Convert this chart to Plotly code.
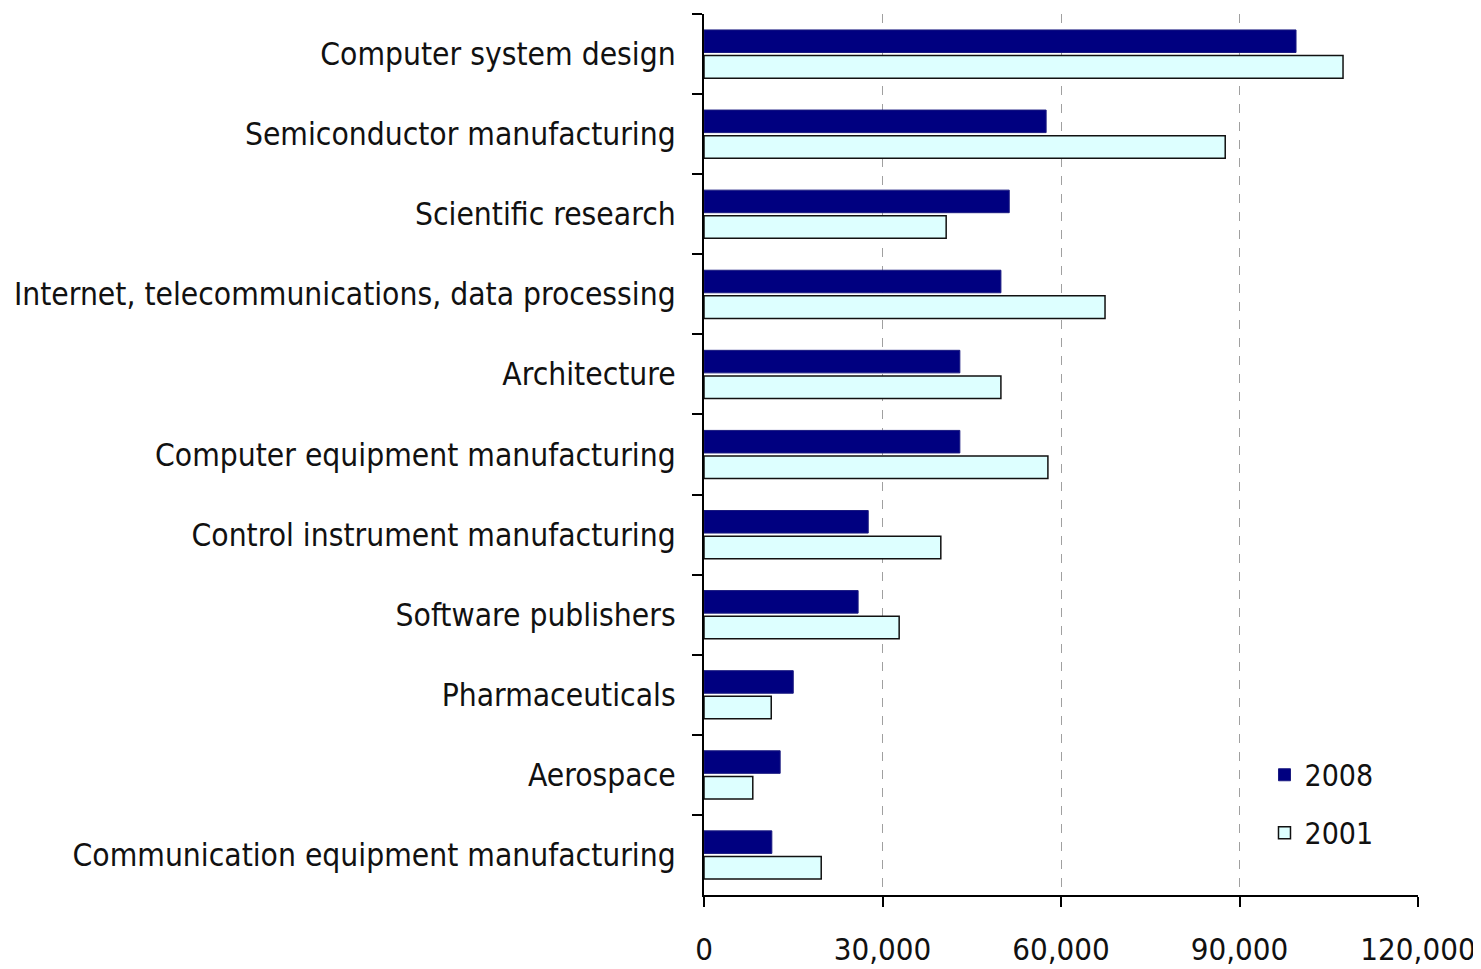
import plotly.graph_objects as go

categories = [
    "Computer system design",
    "Semiconductor manufacturing",
    "Scientific research",
    "Internet, telecommunications, data processing",
    "Architecture",
    "Computer equipment manufacturing",
    "Control instrument manufacturing",
    "Software publishers",
    "Pharmaceuticals",
    "Aerospace",
    "Communication equipment manufacturing",
]
values_2008 = [99500, 57500, 51300, 49900, 43000, 43000, 27600, 25900, 15000, 12800, 11400]
values_2001 = [107400, 87600, 40700, 67400, 49900, 57800, 39800, 32800, 11300, 8200, 19700]
tick_vals = [0, 30000, 60000, 90000, 120000]
tick_text = ["0", "30,000", "60,000", "90,000", "120,000"]

FONT = "DejaVu Sans Condensed, Liberation Sans Narrow, sans-serif"

fig = go.Figure()
fig.add_trace(go.Bar(
    y=categories, x=values_2008, orientation="h", name="2008",
    legendgroup="a",
    marker=dict(color="#000080", line=dict(color="#1a1a80", width=1)),
))
fig.add_trace(go.Bar(
    y=categories, x=values_2001, orientation="h", name="2001",
    legendgroup="b",
    marker=dict(color="#DDFFFF", line=dict(color="#111111", width=1.5)),
))

fig.update_layout(
    width=1473, height=961,
    margin=dict(l=696, r=63, t=6, b=74, autoexpand=False),
    paper_bgcolor="white", plot_bgcolor="white",
    barmode="group", bargap=0.36, bargroupgap=0.12,
    font=dict(family=FONT, size=31, color="#111111"),
    showlegend=True,
    legend=dict(
        x=0.785, y=0.166, xanchor="left", yanchor="top",
        font=dict(size=30, family=FONT), tracegroupgap=16,
        bgcolor="rgba(0,0,0,0)", itemwidth=30,
    ),
    xaxis=dict(
        range=[0, 120000], tickvals=tick_vals, ticktext=tick_text,
        showgrid=True, gridcolor="#a0a0a0", griddash="dash", gridwidth=1,
        zeroline=False, showline=True, linecolor="black", linewidth=2,
        ticks="outside", ticklen=10, tickwidth=2, tickcolor="black",
        tickfont=dict(size=31, family=FONT), ticklabelstandoff=16,
        ticklabeloverflow="allow",
    ),
    yaxis=dict(
        autorange="reversed", showline=True, linecolor="black", linewidth=2,
        ticks="outside", ticklen=10, tickwidth=2, tickcolor="black",
        tickson="boundaries", showgrid=False,
        tickfont=dict(size=31.5, family=FONT), ticklabelstandoff=20,
    ),
)

fig.write_html("out.html")
